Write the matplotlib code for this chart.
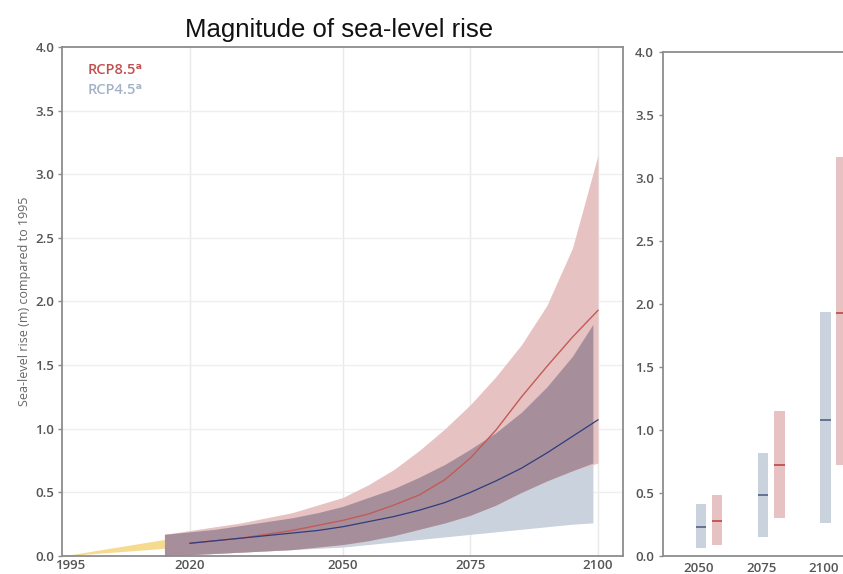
import numpy as np
import matplotlib
matplotlib.use("Agg")
import matplotlib.pyplot as plt
import matplotlib.transforms as mtransforms

# projection years (5-yearly, blue band stops one year early)
years = [2015, 2020, 2025, 2030, 2035, 2040, 2045, 2050, 2055, 2060,
         2065, 2070, 2075, 2080, 2085, 2090, 2095, 2100]
years_45 = years[:-1] + [2099]

# RCP8.5 likely range + median (m)
rcp85_hi = [0.17, 0.20, 0.23, 0.26, 0.30, 0.34, 0.40, 0.46, 0.56, 0.68,
            0.83, 1.00, 1.19, 1.41, 1.66, 1.97, 2.42, 3.15]
rcp85_lo = [0.00, 0.01, 0.02, 0.03, 0.04, 0.05, 0.07, 0.09, 0.12, 0.16,
            0.21, 0.26, 0.32, 0.40, 0.50, 0.59, 0.67, 0.73]
# RCP4.5 likely range (m)
rcp45_hi = [0.17, 0.19, 0.21, 0.24, 0.27, 0.30, 0.34, 0.39, 0.46, 0.53,
            0.62, 0.72, 0.84, 0.97, 1.13, 1.33, 1.57, 1.82]
rcp45_lo = [0.00, 0.01, 0.02, 0.03, 0.04, 0.05, 0.06, 0.07, 0.09, 0.11,
            0.13, 0.15, 0.17, 0.19, 0.21, 0.23, 0.25, 0.26]

# medians start in 2020
med_years = years[1:]
rcp85_med = [0.10, 0.12, 0.14, 0.17, 0.20, 0.24, 0.28, 0.33, 0.40, 0.48,
             0.60, 0.77, 0.99, 1.25, 1.49, 1.72, 1.93]
rcp45_med = [0.10, 0.12, 0.14, 0.16, 0.18, 0.20, 0.23, 0.27, 0.31, 0.36,
             0.42, 0.50, 0.59, 0.69, 0.81, 0.94, 1.07]

# observed 1995-2015 wedge
hist_years = [1995, 2015]
hist_hi = [0.0, 0.13]
hist_lo = [0.0, 0.06]

# bar panel: low, median, high per year
bar_years = ["2050", "2075", "2100"]
bar45_lo = [0.06, 0.15, 0.26]
bar45_med = [0.23, 0.48, 1.08]
bar45_hi = [0.41, 0.82, 1.94]
bar85_lo = [0.09, 0.30, 0.72]
bar85_med = [0.28, 0.72, 1.93]
bar85_hi = [0.48, 1.15, 3.17]

PINK = "#e7c2c3"
BLUE = "#c9d2dd"
OVERLAP = "#a68f9b"
RED_LINE = "#c45a56"
BLUE_LINE = "#2f3c80"
SPINE = "#8c8c8c"
TICK = "#555555"
FONT = ["Open Sans", "DejaVu Sans"]

fig = plt.figure(figsize=(8.43, 5.74), dpi=100)
ax = fig.add_axes([0.0741, 0.0314, 0.6649, 0.8868])
ax2 = fig.add_axes([0.7865, 0.0314, 0.281, 0.8780])

# ---------- left: time series ----------
ax.fill_between(hist_years, hist_lo, hist_hi, color="#f6da8f", lw=0)
ax.fill_between(years_45, rcp45_lo, rcp45_hi, color=BLUE, lw=0)
ax.fill_between(years, rcp85_lo, rcp85_hi, color=PINK, lw=0)
ov_lo = np.maximum(rcp45_lo, rcp85_lo)
ov_hi = np.minimum(rcp45_hi, rcp85_hi)
ax.fill_between(years_45, ov_lo, ov_hi, color=OVERLAP, lw=0)
ax.plot(med_years, rcp85_med, color=RED_LINE, lw=1.0)
ax.plot(med_years, rcp45_med, color=BLUE_LINE, lw=0.9)

ax.set_xlim(1995, 2104.9)
ax.set_ylim(0, 4)
ax.set_xticks([1995, 2020, 2050, 2075, 2100])
ax.set_yticks(np.arange(0, 4.01, 0.5))
ax.set_yticklabels([f"{v:.1f}" for v in np.arange(0, 4.01, 0.5)])
for x in [2020, 2050, 2075, 2100]:
    ax.axvline(x, color="#e9e9e9", lw=1.0, zorder=0)
for y in np.arange(0.5, 4.0, 0.5):
    ax.axhline(y, color="#efefef", lw=1.0, zorder=0)

ax.text(2000, 3.82, "RCP8.5ᵃ", color="#c0504d", fontsize=10.5,
        family=FONT, fontweight="semibold", va="center")
ax.text(2000, 3.66, "RCP4.5ᵃ", color="#a3b2c8", fontsize=10.5,
        family=FONT, fontweight="semibold", va="center")
ax.set_ylabel("Sea-level rise (m) compared to 1995", fontsize=9,
              color="#666666", family=FONT, labelpad=3)

# ---------- right: ranges by year ----------
pos = np.arange(len(bar_years))
shift = 0.26
w = 0.17
ax2.bar(pos, np.subtract(bar45_hi, bar45_lo), bottom=bar45_lo, width=w,
        color=BLUE, lw=0)
ax2.bar(pos + shift, np.subtract(bar85_hi, bar85_lo), bottom=bar85_lo,
        width=w, color=PINK, lw=0)
ax2.hlines(bar45_med, pos - w / 2, pos + w / 2, color="#5a6a8a", lw=1.3)
ax2.hlines(bar85_med, pos + shift - w / 2, pos + shift + w / 2,
           color="#c0504d", lw=1.3)
ax2.set_xlim(-0.61, 3.2)
ax2.set_ylim(0, 4)
ax2.set_xticks(pos - 0.03)
ax2.set_xticklabels(bar_years)
ax2.set_yticks(np.arange(0, 4.01, 0.5))
ax2.set_yticklabels([f"{v:.1f}" for v in np.arange(0, 4.01, 0.5)])
ax2.spines["right"].set_visible(False)

for a in (ax, ax2):
    for s in a.spines.values():
        s.set_color(SPINE)
        s.set_linewidth(1.3)
    a.tick_params(colors=SPINE, labelcolor=TICK, length=3, width=1,
                  labelsize=9.5)
    for lab in a.get_xticklabels() + a.get_yticklabels():
        lab.set_family(FONT)
        lab.set_fontweight("semibold")
ax.tick_params(axis="x", length=0, pad=2)
ax2.tick_params(axis="x", length=0, pad=4)
ax.tick_params(axis="y", length=3, pad=3)

# nudge the first year label clear of the 0.0 label
first = ax.get_xticklabels()[0]
first.set_transform(first.get_transform() +
                    mtransforms.ScaledTranslation(8 / 100, 0,
                                                  fig.dpi_scale_trans))

fig.text(0.402, 0.9355, "Magnitude of sea-level rise", fontsize=18.5,
         family="Liberation Sans", color="#111111", ha="center",
         va="baseline")

fig.savefig("out.png", dpi=100)
